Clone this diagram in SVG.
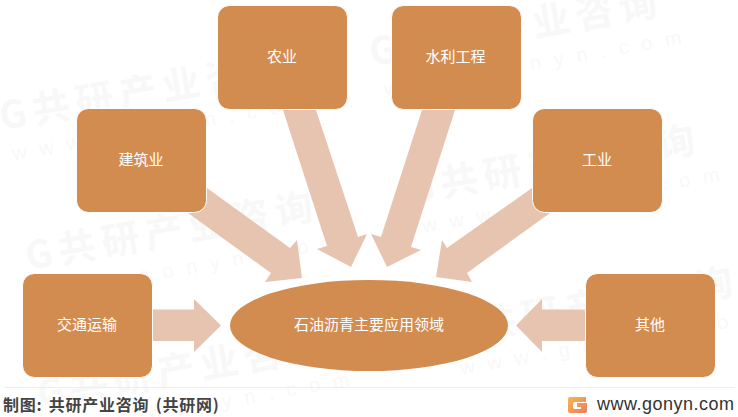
<svg xmlns="http://www.w3.org/2000/svg" width="738" height="417" viewBox="0 0 738 417">
<defs>
<style>
text{font-family:"Noto Sans CJK SC","Liberation Sans",sans-serif}
.box{fill:#D38C4F;stroke:#fff;stroke-width:1}
.lbl{fill:#fff;font-size:15px;text-anchor:middle}
.arr{fill:#E6C4B0}
.wm{fill:#000;opacity:.022;font-weight:700;font-size:38px;letter-spacing:6px}
.wu{fill:#000;opacity:.022;font-family:"Liberation Sans",sans-serif;font-size:20px;letter-spacing:13px}
</style>
<linearGradient id="lg" x1="0" y1="0" x2="1" y2="1"><stop offset="0" stop-color="#F9B64B"/><stop offset="1" stop-color="#EE7D5F"/></linearGradient>
</defs>
<rect width="738" height="417" fill="#fff"/>
<g id="watermark">
<g transform="rotate(-10 2 130)"><text class="wm" x="2" y="130">G共研产业咨询</text><text class="wu" x="8" y="162">www.gonyn.com</text></g>
<g transform="rotate(-10 28 270)"><text class="wm" x="28" y="270">G共研产业咨询</text><text class="wu" x="36" y="302">www.gonyn.com</text></g>
<g transform="rotate(-10 372 66)"><text class="wm" x="372" y="66">G共研产业咨询</text><text class="wu" x="380" y="98">www.gonyn.com</text></g>
<g transform="rotate(-10 410 203)"><text class="wm" x="410" y="203">G共研产业咨询</text><text class="wu" x="418" y="235">www.gonyn.com</text></g>
<g transform="rotate(-10 40 408)"><text class="wm" x="40" y="408">G共研产业咨询</text><text class="wu" x="48" y="440">www.gonyn.com</text></g>
<g transform="rotate(-10 448 345)"><text class="wm" x="448" y="345">G共研产业咨询</text><text class="wu" x="456" y="377">www.gonyn.com</text></g>
</g>
<g id="connectors">
<polygon class="arr" points="153,309.5 194,309.5 194,299 221,325.5 194,352 194,341 153,341"/>
<polygon class="arr" points="585,309.5 542,309.5 542,299 516,325.5 542,352 542,341 585,341"/>
<polygon class="arr" points="283,110 316,110 358,237 367,234 351,267 317,249 327,246"/>
<polygon class="arr" points="455,110 422,110 381,237 371,234 387,267 421,250 411,247"/>
<polygon class="arr" points="207,188 290,248 297,240 302,278 265,282 271,273 188,213"/>
<polygon class="arr" points="532,188 447,248 442,240 436,277 472,282 467,273 550,213"/>
</g>
<g id="n1"><rect class="box" x="22.500" y="273.500" width="130" height="104" rx="12"/><text class="lbl" x="87" y="330">交通运输</text></g>
<g id="n2"><rect class="box" x="76.500" y="108.500" width="130" height="104" rx="12"/><text class="lbl" x="141" y="165">建筑业</text></g>
<g id="n3"><rect class="box" x="217.500" y="5.500" width="130" height="104" rx="12"/><text class="lbl" x="282" y="62">农业</text></g>
<g id="n4"><rect class="box" x="391.500" y="5.500" width="130" height="104" rx="12"/><text class="lbl" x="455.500" y="62">水利工程</text></g>
<g id="n5"><rect class="box" x="532.500" y="108.500" width="130" height="104" rx="12"/><text class="lbl" x="597" y="165">工业</text></g>
<g id="n6"><rect class="box" x="585.500" y="273.500" width="130" height="104" rx="12"/><text class="lbl" x="650" y="330">其他</text></g>
<g id="center"><ellipse cx="369" cy="325.500" rx="139" ry="45.500" fill="#D38C4F"/><text class="lbl" x="369" y="330">石油沥青主要应用领域</text></g>
<g id="footer">
<line x1="4" y1="387.500" x2="735" y2="387.500" stroke="#EDEDED" stroke-width="1"/>
<text x="3" y="411" font-size="16" font-weight="700" fill="#444" letter-spacing=".75" word-spacing="2">制图: 共研产业咨询 (共研网)</text>
<path d="M570 397h16v5h-11q-2 0-2 2v3q0 2 2 2h6v-2h-4v-4h10v8q0 2-2 2h-15q-2 0-2-2v-12q0-2 2-2z" fill="url(#lg)"/>
<text x="597" y="410" style="font-family:'Liberation Sans',sans-serif" font-size="18" fill="#333" letter-spacing=".5">www.gonyn.com</text>
</g>
</svg>
